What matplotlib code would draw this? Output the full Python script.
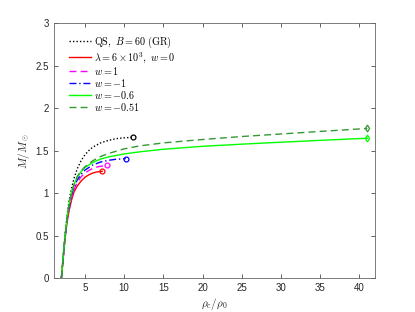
import matplotlib
matplotlib.use("Agg")
import matplotlib.pyplot as plt

plt.rcParams['mathtext.fontset'] = 'cm'
plt.rcParams['font.family'] = ['Liberation Sans', 'DejaVu Sans']

# QS, B=60 (GR)
qs_x = [2.0, 2.2, 2.4, 2.6, 2.8, 3.0, 3.3, 3.6, 4.0, 4.5, 5.0, 5.5, 6.0, 7.0, 8.0, 9.0, 10.0, 11.1]
qs_y = [0.0, 0.22, 0.44, 0.63, 0.79, 0.92, 1.06, 1.17, 1.28, 1.38, 1.45, 1.50, 1.54, 1.59, 1.62, 1.64, 1.65, 1.655]
# lambda = 6e3, w = 0
red_x = [2.0, 2.2, 2.4, 2.6, 2.8, 3.0, 3.3, 3.6, 4.0, 4.5, 5.0, 5.5, 6.0, 6.5, 7.2]
red_y = [0.0, 0.2, 0.4, 0.57, 0.7, 0.8, 0.92, 1.01, 1.08, 1.14, 1.185, 1.215, 1.235, 1.248, 1.255]
# w = 1
mag_x = [2.0, 2.2, 2.4, 2.6, 2.8, 3.0, 3.3, 3.6, 4.0, 4.5, 5.0, 5.5, 6.0, 6.5, 7.0, 7.8]
mag_y = [0.0, 0.2, 0.41, 0.58, 0.72, 0.83, 0.95, 1.04, 1.12, 1.19, 1.235, 1.265, 1.29, 1.305, 1.315, 1.325]
# w = -1
blu_x = [2.0, 2.2, 2.4, 2.6, 2.8, 3.0, 3.3, 3.6, 4.0, 4.5, 5.0, 5.5, 6.0, 7.0, 8.0, 9.0, 10.2]
blu_y = [0.0, 0.21, 0.42, 0.6, 0.74, 0.85, 0.98, 1.07, 1.15, 1.22, 1.27, 1.30, 1.33, 1.365, 1.385, 1.398, 1.405]
# w = -0.6
grn_x = [2.0, 2.2, 2.4, 2.6, 2.8, 3.0, 3.3, 3.6, 4.0, 4.5, 5.0, 6.0, 7.0, 8.0, 10.0, 12.0, 15.0, 20.0, 25.0, 30.0, 35.0, 41.0]
grn_y = [0.0, 0.22, 0.43, 0.61, 0.76, 0.88, 1.01, 1.1, 1.18, 1.25, 1.30, 1.36, 1.40, 1.425, 1.46, 1.485, 1.515, 1.55, 1.575, 1.598, 1.62, 1.645]
# w = -0.51
dgr_x = [2.0, 2.2, 2.4, 2.6, 2.8, 3.0, 3.3, 3.6, 4.0, 4.5, 5.0, 6.0, 7.0, 8.0, 10.0, 12.0, 15.0, 20.0, 25.0, 30.0, 35.0, 41.0]
dgr_y = [0.0, 0.22, 0.43, 0.61, 0.76, 0.88, 1.01, 1.1, 1.19, 1.26, 1.31, 1.38, 1.43, 1.465, 1.52, 1.555, 1.59, 1.63, 1.665, 1.695, 1.725, 1.76]

labels = [r'$\mathrm{QS},\ B=60\ \mathrm{(GR)}$',
          r'$\lambda=6\times10^3,\ w=0$',
          r'$w=1$', r'$w=-1$', r'$w=-0.6$', r'$w=-0.51$']

xticks = [5, 10, 15, 20, 25, 30, 35, 40]
yticks = [0, 0.5, 1, 1.5, 2, 2.5, 3]
ytick_labels = ['0', '0.5', '1', '1.5', '2', '2.5', '3']

fig = plt.figure(figsize=(4.15, 3.12), dpi=100)
ax = fig.add_axes([0.130, 0.109, 0.774, 0.817])

dg = '#339933'
ax.plot(qs_x, qs_y, color='black', ls=(0, (1, 1.5)), lw=1.0, label=labels[0])
ax.plot(red_x, red_y, color='red', ls='-', lw=1.0, label=labels[1])
ax.plot(mag_x, mag_y, color='magenta', ls=(0, (5, 3)), lw=1.0, label=labels[2])
ax.plot(blu_x, blu_y, color='blue', ls=(0, (5, 2, 1, 2)), lw=1.0, label=labels[3])
ax.plot(grn_x, grn_y, color='#00ff00', ls='-', lw=1.0, label=labels[4])
ax.plot(dgr_x, dgr_y, color=dg, ls=(0, (5, 3)), lw=1.0, label=labels[5])

ms = 3.5
ax.plot(qs_x[-1], qs_y[-1], 'o', mfc='none', mec='black', ms=ms, mew=0.9)
ax.plot(red_x[-1], red_y[-1], 'o', mfc='none', mec='red', ms=ms, mew=0.9)
ax.plot(mag_x[-1], mag_y[-1], 'o', mfc='none', mec='magenta', ms=ms, mew=0.9)
ax.plot(blu_x[-1], blu_y[-1], 'o', mfc='none', mec='blue', ms=ms, mew=0.9)
ax.plot(grn_x[-1], grn_y[-1], 'd', mfc='none', mec='#00ff00', ms=ms, mew=0.9)
ax.plot(dgr_x[-1], dgr_y[-1], 'd', mfc='none', mec=dg, ms=ms, mew=0.9)

ax.set_xlim(1.05, 42)
ax.set_ylim(0, 3)
ax.set_xticks(xticks)
ax.set_yticks(yticks)
ax.set_yticklabels(ytick_labels)
ax.tick_params(direction='in', top=True, right=True, labelsize=7, length=3,
               width=0.5, colors='#262626')
for s in ax.spines.values():
    s.set_color('#666666')
    s.set_linewidth(0.6)

ax.set_xlabel(r'$\rho_c/\rho_0$', fontsize=8, color='#262626', labelpad=2)
ax.set_ylabel(r'$M/M_\odot$', fontsize=8, color='#262626', labelpad=3)

leg = ax.legend(loc='upper left', frameon=False, fontsize=7.3, handlelength=2.2,
                handletextpad=0.3, labelspacing=0.0, borderaxespad=0.6,
                bbox_to_anchor=(0.015, 0.995))

fig.savefig('out.png', dpi=100)
